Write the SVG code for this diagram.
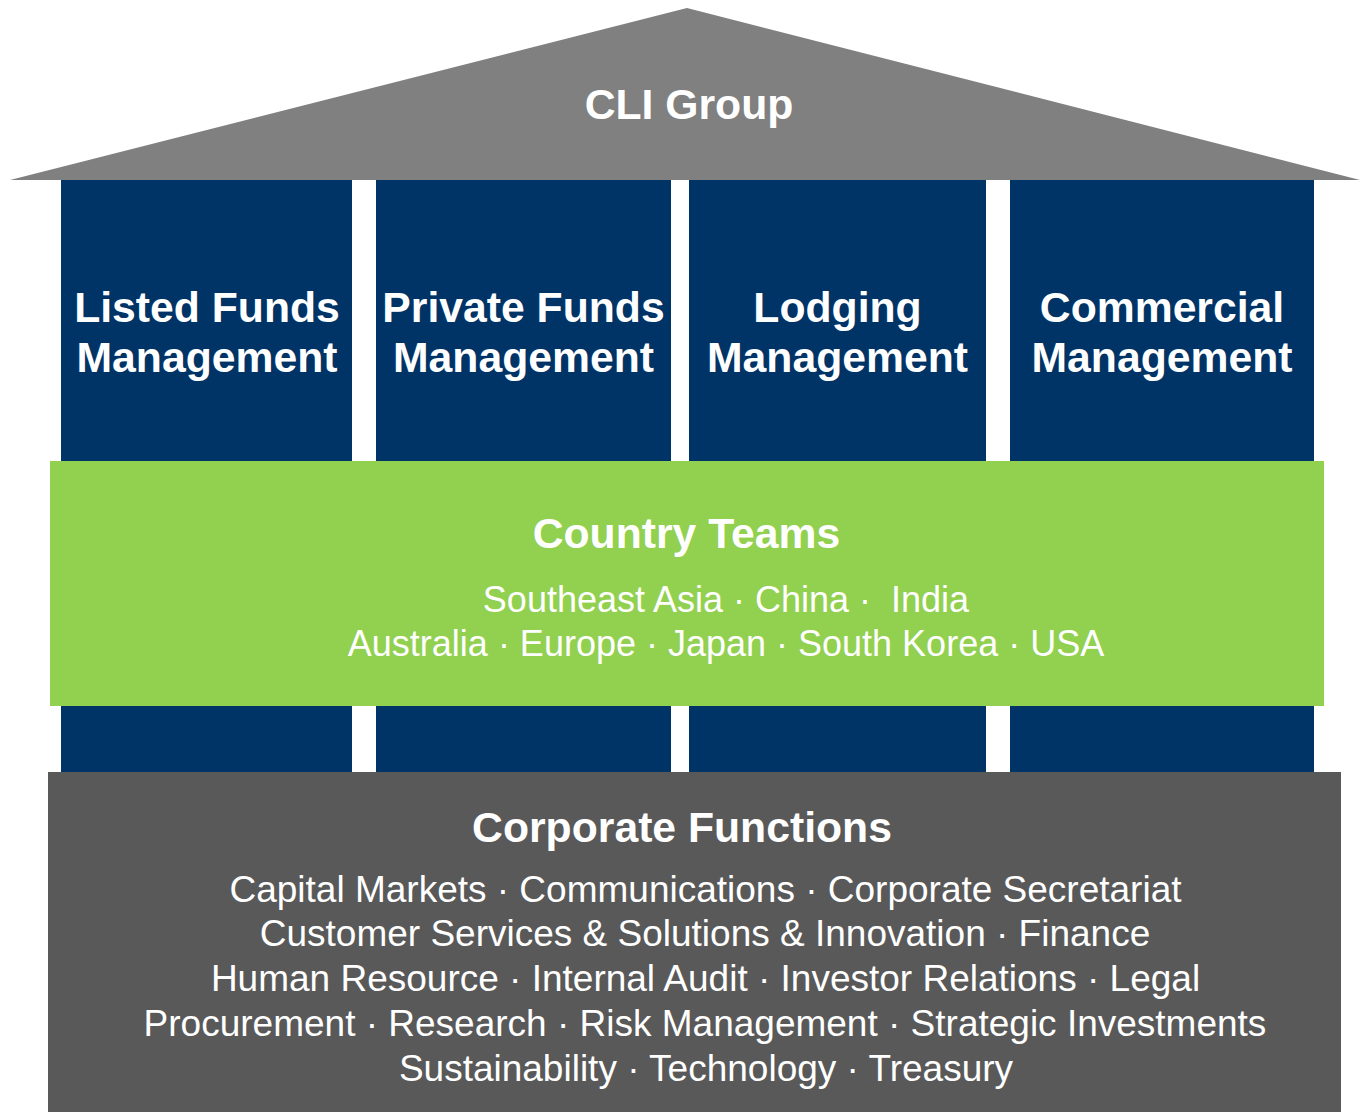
<svg xmlns="http://www.w3.org/2000/svg" width="1360" height="1112" viewBox="0 0 1360 1112">
<style>
  text { font-family: "Liberation Sans", Arial, sans-serif; fill: #ffffff; text-anchor: middle; white-space: pre; }
  .title { font-size: 42.7px; font-weight: bold; }
  .body { font-size: 36px; }
  .body37 { font-size: 37px; }
  .pillar { fill: #003366; }
</style>
<rect width="1360" height="1112" fill="#ffffff"/>
<g id="pillars">
  <g id="listed-funds">
    <rect class="pillar" x="61" y="180" width="291" height="592"/>
    <text class="title" x="207" y="322">Listed Funds</text>
    <text class="title" x="207" y="372">Management</text>
  </g>
  <g id="private-funds">
    <rect class="pillar" x="376" y="180" width="295" height="592"/>
    <text class="title" x="523.5" y="322">Private Funds</text>
    <text class="title" x="523.5" y="372">Management</text>
  </g>
  <g id="lodging">
    <rect class="pillar" x="689" y="180" width="297" height="592"/>
    <text class="title" x="837.5" y="322">Lodging</text>
    <text class="title" x="837.5" y="372">Management</text>
  </g>
  <g id="commercial">
    <rect class="pillar" x="1010" y="180" width="304" height="592"/>
    <text class="title" x="1162" y="322">Commercial</text>
    <text class="title" x="1162" y="372">Management</text>
  </g>
</g>
<g id="roof">
  <polygon points="10,180 687,8 1360,180" fill="#808080"/>
  <text class="title" x="689" y="119">CLI Group</text>
</g>
<g id="country-teams">
  <rect x="50" y="461" width="1274" height="245" fill="#92D050"/>
  <text class="title" x="686.5" y="548">Country Teams</text>
  <text class="body" x="726" y="612">Southeast Asia · China ·  India</text>
  <text class="body" x="726" y="656">Australia · Europe · Japan · South Korea · USA</text>
</g>
<g id="corporate-functions">
  <rect x="48" y="772" width="1293" height="340" fill="#595959"/>
  <text class="title" x="682" y="842">Corporate Functions</text>
  <text class="body37" x="705.5" y="902">Capital Markets · Communications · Corporate Secretariat</text>
  <text class="body37" x="705" y="946">Customer Services &amp; Solutions &amp; Innovation · Finance</text>
  <text class="body37" x="705.5" y="991">Human Resource · Internal Audit · Investor Relations · Legal</text>
  <text class="body37" x="705" y="1036">Procurement · Research · Risk Management · Strategic Investments</text>
  <text class="body37" x="706" y="1081">Sustainability · Technology · Treasury</text>
</g>
<g id="connectors"></g>
</svg>
